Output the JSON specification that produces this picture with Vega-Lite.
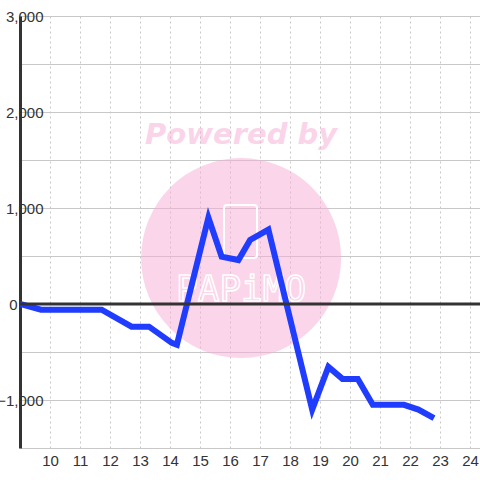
{
  "$schema": "https://vega.github.io/schema/vega-lite/v6.json",
  "width": 460,
  "height": 432,
  "autosize": {"type": "none"},
  "padding": {"left": 20, "top": 16, "right": 0, "bottom": 32},
  "background": "white",
  "config": {
    "view": {"stroke": null},
    "axis": {"labelFont": "Liberation Sans", "labelFontSize": 15, "labelColor": "#333333", "labelOverlap": false},
    "axisX": {"labelOverlap": false, "labelFlush": false},
    "axisY": {"labelOverlap": false, "labelFlush": false}
  },
  "datasets": {
    "series": [
      {"hour": 9.0, "value": 0},
      {"hour": 9.7, "value": -60},
      {"hour": 11.72, "value": -60},
      {"hour": 12.72, "value": -236},
      {"hour": 13.3, "value": -236},
      {"hour": 14.06, "value": -405},
      {"hour": 14.23, "value": -425},
      {"hour": 15.28, "value": 900},
      {"hour": 15.72, "value": 494},
      {"hour": 16.28, "value": 458},
      {"hour": 16.67, "value": 667},
      {"hour": 17.28, "value": 775},
      {"hour": 18.74, "value": -1100},
      {"hour": 19.28, "value": -655},
      {"hour": 19.75, "value": -780},
      {"hour": 20.26, "value": -780},
      {"hour": 20.76, "value": -1050},
      {"hour": 21.8, "value": -1050},
      {"hour": 22.28, "value": -1100},
      {"hour": 22.8, "value": -1190}
    ],
    "mark": [
      {"hour": 16.37, "value": 479, "hour2": 15.8, "hourEnd": 16.9, "top": 1031, "bottom": 479, "title": "Powered by", "titleValue": 1760, "logo": "PAPiMO", "logoValue": 146}
    ],
    "zero": [{"value": 0}]
  },
  "layer": [
    {
      "data": {"name": "mark"},
      "mark": {"type": "point", "filled": true, "shape": "circle", "size": 40000, "color": "#f7abd5", "opacity": 0.5},
      "encoding": {
        "x": {
          "field": "hour", "type": "quantitative",
          "scale": {"domain": [9, 24.3333], "nice": false, "zero": false},
          "axis": {
            "title": null, "values": [10, 11, 12, 13, 14, 15, 16, 17, 18, 19, 20, 21, 22, 23, 24],
            "tickCount": 16, "format": "d",
            "domain": false, "ticks": false, "labelPadding": 5, "labelFlush": false, "labelOverlap": false, "labelSeparation": 0,
            "grid": true, "gridColor": "#c8c8c8", "gridDash": [2, 3], "gridWidth": 1
          }
        },
        "y": {
          "field": "value", "type": "quantitative",
          "scale": {"domain": [-1500, 3000], "nice": false, "zero": false},
          "axis": {
            "title": null, "values": [-1500, -1000, -500, 0, 500, 1000, 1500, 2000, 2500, 3000],
            "labelExpr": "datum.value % 1000 === 0 ? format(datum.value, ',') : ''",
            "domain": true, "domainColor": "#333333", "domainWidth": 3,
            "ticks": false, "labelPadding": {"expr": "datum.value === 0 ? 3 : -23"}, "labelFlush": false, "labelOverlap": false,
            "grid": true, "gridColor": "#c8c8c8", "gridWidth": 1
          }
        }
      }
    },
    {
      "data": {"name": "mark"},
      "mark": {"type": "text", "font": "DejaVu Sans", "fontWeight": "bold", "fontStyle": "italic", "fontSize": 29, "color": "#f7abd5", "opacity": 0.5, "align": "center", "baseline": "middle"},
      "encoding": {
        "x": {"field": "hour", "type": "quantitative"},
        "y": {"field": "titleValue", "type": "quantitative"},
        "text": {"field": "title"}
      }
    },
    {
      "data": {"name": "mark"},
      "mark": {"type": "rect", "fill": "transparent", "stroke": "white", "strokeWidth": 2, "cornerRadius": 3},
      "encoding": {
        "x": {"field": "hour2", "type": "quantitative"},
        "x2": {"field": "hourEnd"},
        "y": {"field": "top", "type": "quantitative"},
        "y2": {"field": "bottom"}
      }
    },
    {
      "data": {"name": "mark"},
      "mark": {"type": "text", "font": "DejaVu Sans Mono", "fontSize": 36, "fill": "transparent", "stroke": "white", "strokeWidth": 1.5, "align": "center", "baseline": "middle"},
      "encoding": {
        "x": {"field": "hour", "type": "quantitative"},
        "y": {"field": "logoValue", "type": "quantitative"},
        "text": {"field": "logo"}
      }
    },
    {
      "data": {"name": "series"},
      "mark": {"type": "line", "color": "#1f3cff", "strokeWidth": 6, "strokeJoin": "miter", "clip": true},
      "encoding": {
        "x": {"field": "hour", "type": "quantitative"},
        "y": {"field": "value", "type": "quantitative"}
      }
    },
    {
      "data": {"name": "zero"},
      "mark": {"type": "rule", "color": "#333333", "strokeWidth": 3},
      "encoding": {"y": {"field": "value", "type": "quantitative"}}
    }
  ]
}
